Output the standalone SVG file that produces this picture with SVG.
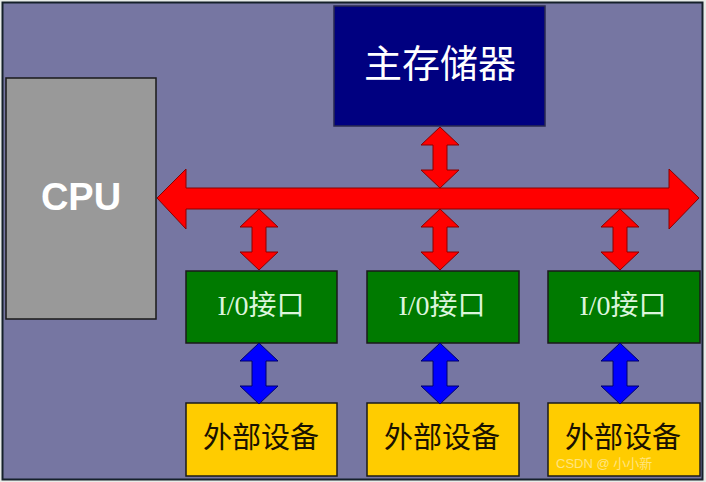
<svg xmlns="http://www.w3.org/2000/svg" width="706" height="482" viewBox="0 0 706 482">
<style>
.box{stroke:#1a1a1a;stroke-width:1.5}
.cjk{font-family:"Liberation Serif","Noto Sans CJK SC",serif;text-anchor:middle;dominant-baseline:central}
.io{font-size:28px;fill:#dcf5dc}
.dev{font-size:29px;fill:#1a1200}
.red{fill:#ff0000;stroke:#8a0000;stroke-width:1}
.blue{fill:#0000ff;stroke:#00006a;stroke-width:1}
</style>
<defs>
<path id="dbl" d="M0,0 L19,18 L7,18 L7,43 L19,43 L0,61 L-19,43 L-7,43 L-7,18 L-19,18 Z"/>
</defs>
<rect x="0" y="0" width="706" height="482" fill="#e8ece8"/>
<rect x="2.5" y="2.5" width="700" height="477" fill="#7676a2" stroke="#15202a" stroke-width="2"/>

<g id="cpu">
<rect class="box" x="6" y="78" width="150" height="241" fill="#999999"/>
<text x="81" y="197" font-family="Liberation Sans, Arial, sans-serif" font-weight="bold" font-size="38" fill="#ffffff" text-anchor="middle" dominant-baseline="central">CPU</text>
</g>

<g id="memory">
<rect x="334" y="6" width="211" height="120" fill="#000080" stroke="#2a2a50" stroke-width="1.5"/>
<text class="cjk" x="440" y="64" font-size="38" fill="#ffffff">主存储器</text>
</g>

<g id="io1">
<rect class="box" x="186" y="271" width="151" height="72" fill="#007a00"/>
<text class="cjk io" x="261" y="305">I/0接口</text>
</g>
<g id="io2">
<rect class="box" x="367" y="271" width="152" height="72" fill="#007a00"/>
<text class="cjk io" x="442" y="305">I/0接口</text>
</g>
<g id="io3">
<rect class="box" x="548" y="271" width="152" height="72" fill="#007a00"/>
<text class="cjk io" x="623" y="305">I/0接口</text>
</g>

<g id="dev1">
<rect class="box" x="186" y="403" width="151" height="73" fill="#ffcc00"/>
<text class="cjk dev" x="261" y="438">外部设备</text>
</g>
<g id="dev2">
<rect class="box" x="367" y="403" width="152" height="73" fill="#ffcc00"/>
<text class="cjk dev" x="442" y="438">外部设备</text>
</g>
<g id="dev3">
<rect class="box" x="548" y="403" width="152" height="73" fill="#ffcc00"/>
<text class="cjk dev" x="623" y="438">外部设备</text>
</g>

<g id="connectors">
<polygon class="red" points="157,198 186,169 186,188 669,188 669,169 699,198 669,229 669,209 186,209 186,229"/>
<use href="#dbl" class="red" x="440" y="127"/>
<use href="#dbl" class="red" x="259" y="209"/>
<use href="#dbl" class="red" x="440" y="209"/>
<use href="#dbl" class="red" x="620" y="209"/>
<use href="#dbl" class="blue" x="259" y="343"/>
<use href="#dbl" class="blue" x="440" y="343"/>
<use href="#dbl" class="blue" x="620" y="343"/>
</g>

<text x="556" y="468" font-family="Liberation Sans, Noto Sans CJK SC, sans-serif" font-size="13" fill="#ffffff" fill-opacity="0.5">CSDN @ 小小新</text>
</svg>
